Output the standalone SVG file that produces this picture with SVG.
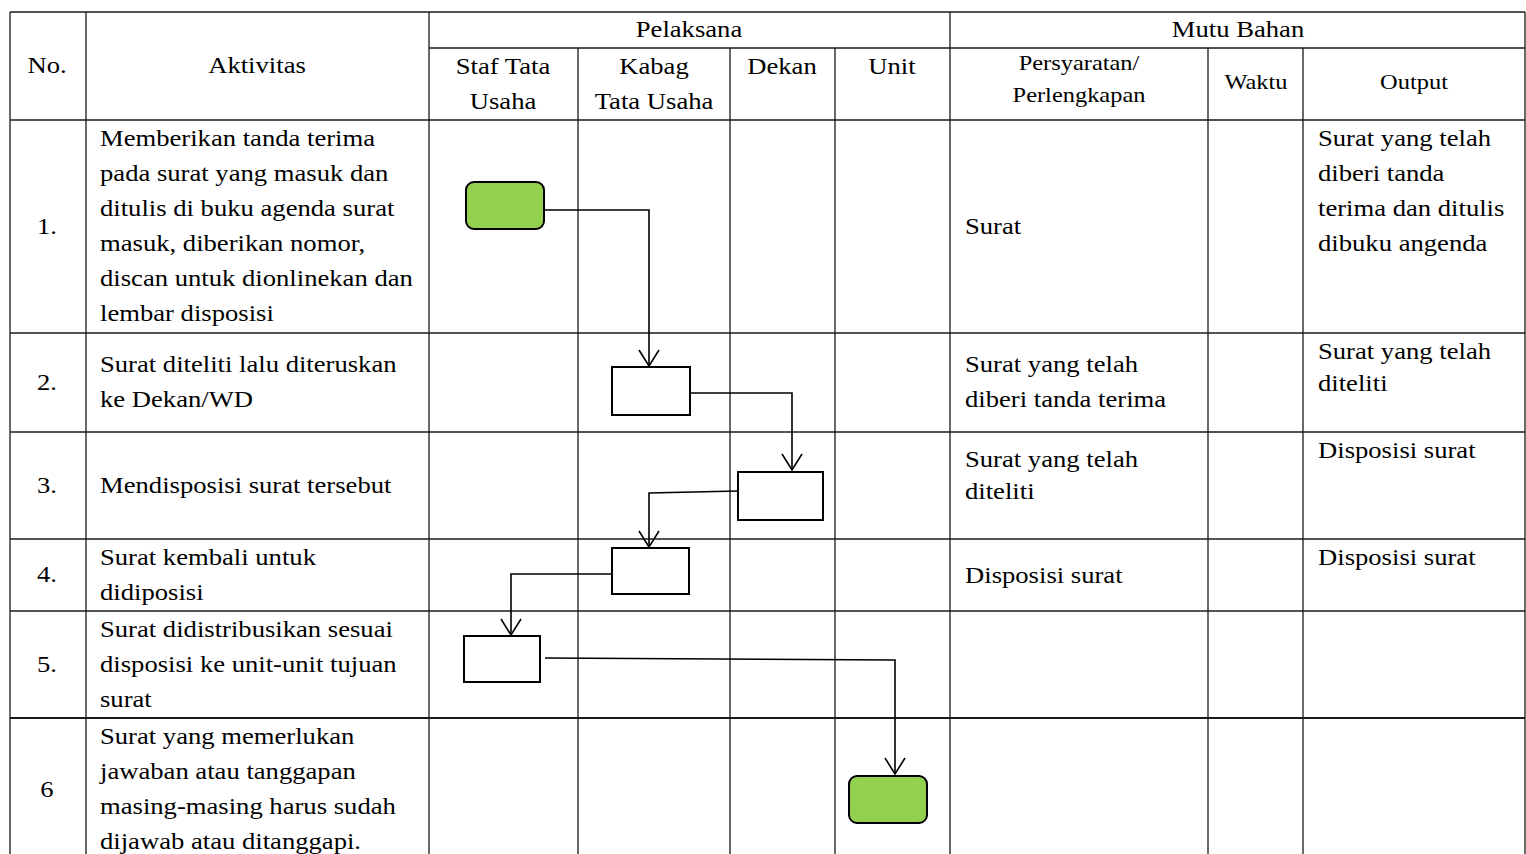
<svg xmlns="http://www.w3.org/2000/svg" width="1526" height="854" viewBox="0 0 1526 854">
<style>
.grid line{stroke:#1a1a1a;stroke-width:1.3}
text{font-family:"Liberation Serif","Times New Roman",serif;fill:#000;font-size:24px}
.sm{font-size:22px}
.c{text-anchor:middle}
.proc{fill:#fff;stroke:#000;stroke-width:2}
.term{fill:#92D050;stroke:#000;stroke-width:2}
.conn path{fill:none;stroke:#000;stroke-width:1.6}
</style>
<defs>
<marker id="arr" markerUnits="userSpaceOnUse" markerWidth="20" markerHeight="24" viewBox="-1 -1 20 24" refX="16" refY="10" orient="auto" overflow="visible">
<path d="M0,0 L16,10 L0,20" fill="none" stroke="#000" stroke-width="1.6"/>
</marker>
</defs>
<rect width="1526" height="854" fill="#fff"/>
<g id="table" class="grid">
<line x1="10" y1="12" x2="1525" y2="12"/>
<line x1="429" y1="48" x2="1525" y2="48"/>
<line x1="10" y1="120" x2="1525" y2="120"/>
<line x1="10" y1="333" x2="1525" y2="333"/>
<line x1="10" y1="432" x2="1525" y2="432"/>
<line x1="10" y1="539" x2="1525" y2="539"/>
<line x1="10" y1="611" x2="1525" y2="611"/>
<line x1="10" y1="718" x2="1525" y2="718" style="stroke-width:2"/>
<line x1="10" y1="12" x2="10" y2="854"/>
<line x1="86" y1="12" x2="86" y2="854"/>
<line x1="429" y1="12" x2="429" y2="854"/>
<line x1="578" y1="48" x2="578" y2="854"/>
<line x1="730" y1="48" x2="730" y2="854"/>
<line x1="835" y1="48" x2="835" y2="854"/>
<line x1="950" y1="12" x2="950" y2="854"/>
<line x1="1208" y1="48" x2="1208" y2="854"/>
<line x1="1303" y1="48" x2="1303" y2="854"/>
<line x1="1525" y1="12" x2="1525" y2="854"/>
</g>
<g id="header">
<text class="c" transform="translate(689 37) scale(1.11 1)">Pelaksana</text>
<text class="c" transform="translate(1238 37) scale(1.11 1)">Mutu Bahan</text>
<text class="c" transform="translate(47 73) scale(1.11 1)">No.</text>
<text class="c" transform="translate(257 73) scale(1.11 1)">Aktivitas</text>
<text class="c" transform="translate(503 74) scale(1.11 1)"><tspan x="0">Staf Tata</tspan><tspan x="0" dy="35">Usaha</tspan></text>
<text class="c" transform="translate(654 74) scale(1.11 1)"><tspan x="0">Kabag</tspan><tspan x="0" dy="35">Tata Usaha</tspan></text>
<text class="c" transform="translate(782 74) scale(1.11 1)">Dekan</text>
<text class="c" transform="translate(892 74) scale(1.11 1)">Unit</text>
<text class="c sm" transform="translate(1079 70) scale(1.11 1)"><tspan x="0">Persyaratan/</tspan><tspan x="0" dy="32">Perlengkapan</tspan></text>
<text class="c sm" transform="translate(1256 89) scale(1.11 1)">Waktu</text>
<text class="c sm" transform="translate(1414 89) scale(1.11 1)">Output</text>
</g>
<g id="numbers">
<text class="c" transform="translate(47 234) scale(1.11 1)">1.</text>
<text class="c" transform="translate(47 390) scale(1.11 1)">2.</text>
<text class="c" transform="translate(47 493) scale(1.11 1)">3.</text>
<text class="c" transform="translate(47 582) scale(1.11 1)">4.</text>
<text class="c" transform="translate(47 672) scale(1.11 1)">5.</text>
<text class="c" transform="translate(47 797) scale(1.11 1)">6</text>
</g>
<g id="aktivitas">
<text transform="translate(100 146) scale(1.11 1)"><tspan x="0">Memberikan tanda terima</tspan><tspan x="0" dy="35">pada surat yang masuk dan</tspan><tspan x="0" dy="35">ditulis di buku agenda surat</tspan><tspan x="0" dy="35">masuk, diberikan nomor,</tspan><tspan x="0" dy="35">discan untuk dionlinekan dan</tspan><tspan x="0" dy="35">lembar disposisi</tspan></text>
<text transform="translate(100 372) scale(1.11 1)"><tspan x="0">Surat diteliti lalu diteruskan</tspan><tspan x="0" dy="35">ke Dekan/WD</tspan></text>
<text transform="translate(100 493) scale(1.11 1)">Mendisposisi surat tersebut</text>
<text transform="translate(100 565) scale(1.11 1)"><tspan x="0">Surat kembali untuk</tspan><tspan x="0" dy="35">didiposisi</tspan></text>
<text transform="translate(100 637) scale(1.11 1)"><tspan x="0">Surat didistribusikan sesuai</tspan><tspan x="0" dy="35">disposisi ke unit-unit tujuan</tspan><tspan x="0" dy="35">surat</tspan></text>
<text transform="translate(100 744) scale(1.11 1)"><tspan x="0">Surat yang memerlukan</tspan><tspan x="0" dy="35">jawaban atau tanggapan</tspan><tspan x="0" dy="35">masing-masing harus sudah</tspan><tspan x="0" dy="35">dijawab atau ditanggapi.</tspan></text>
</g>
<g id="persyaratan">
<text transform="translate(965 234) scale(1.11 1)">Surat</text>
<text transform="translate(965 372) scale(1.11 1)"><tspan x="0">Surat yang telah</tspan><tspan x="0" dy="35">diberi tanda terima</tspan></text>
<text transform="translate(965 467) scale(1.11 1)"><tspan x="0">Surat yang telah</tspan><tspan x="0" dy="32">diteliti</tspan></text>
<text transform="translate(965 583) scale(1.11 1)">Disposisi surat</text>
</g>
<g id="output">
<text transform="translate(1318 146) scale(1.11 1)"><tspan x="0">Surat yang telah</tspan><tspan x="0" dy="35">diberi tanda</tspan><tspan x="0" dy="35">terima dan ditulis</tspan><tspan x="0" dy="35">dibuku angenda</tspan></text>
<text transform="translate(1318 359) scale(1.11 1)"><tspan x="0">Surat yang telah</tspan><tspan x="0" dy="32">diteliti</tspan></text>
<text transform="translate(1318 458) scale(1.11 1)">Disposisi surat</text>
<text transform="translate(1318 565) scale(1.11 1)">Disposisi surat</text>
</g>
<g id="n1"><rect class="term" x="466" y="182" width="78" height="47" rx="8"/></g>
<g id="n2"><rect class="proc" x="612" y="367" width="78" height="48"/></g>
<g id="n3"><rect class="proc" x="738" y="472" width="85" height="48"/></g>
<g id="n4"><rect class="proc" x="612" y="548" width="77" height="46"/></g>
<g id="n5"><rect class="proc" x="464" y="636" width="76" height="46"/></g>
<g id="n6"><rect class="term" x="849" y="776" width="78" height="47" rx="8"/></g>
<g id="connectors" class="conn">
<path d="M544,210 H649 V366" marker-end="url(#arr)"/>
<path d="M691,393 H792 V470" marker-end="url(#arr)"/>
<path d="M738,491 L649,493 V547" marker-end="url(#arr)"/>
<path d="M612,574 H511 V635" marker-end="url(#arr)"/>
<path d="M545,658 L895,660 V774" marker-end="url(#arr)"/>
</g>
</svg>
